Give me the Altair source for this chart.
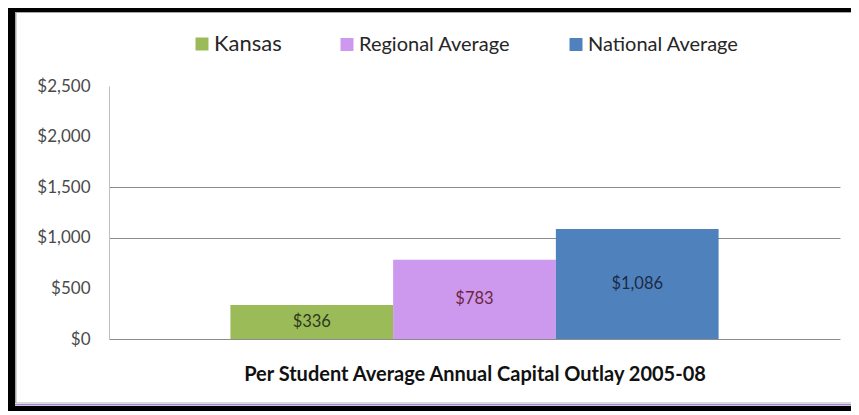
import altair as alt
import pandas as pd

# ---- data ----
categories = ["Kansas", "Regional Average", "National Average"]
values = [336, 783, 1086]
bar_labels = ["$336", "$783", "$1,086"]
y_ticks = [0, 500, 1000, 1500, 2000, 2500]
x_title = "Per Student Average Annual Capital Outlay 2005-08"

bar_colors = ["#9BBB59", "#CC99EE", "#4F81BD"]
text_colors = ["#2B3A1C", "#6E2640", "#1C2B45"]

df = pd.DataFrame({"category": categories, "value": values, "label": bar_labels})

FONT = "Lato"
W, H = 731, 253
PAD_L, PAD_T, PAD_R, PAD_B = 101, 78, 11, 72

x_enc = alt.X(
    "category:N",
    sort=categories,
    scale=alt.Scale(paddingInner=0, paddingOuter=0.746),
    axis=alt.Axis(
        title=x_title,
        labels=False,
        ticks=False,
        domainColor="#8C8C8C",
        titleFont=FONT,
        titleFontSize=20,
        titleFontWeight="bold",
        titleColor="#111111",
        titlePadding=25,
    ),
)

y_enc = alt.Y(
    "value:Q",
    scale=alt.Scale(domain=[0, 2500], nice=False),
    axis=alt.Axis(
        title=None,
        values=y_ticks,
        format="$,.0f",
        labelFont=FONT,
        labelFontSize=17,
        labelColor="#4A4A4A",
        labelPadding=19,
        ticks=False,
        domainColor="#BFBFBF",
        gridColor="#8C8C8C",
        gridOpacity=alt.condition("datum.value == 1000 || datum.value == 1500", alt.value(1), alt.value(0)),
    ),
)

bars = alt.Chart(df).mark_bar().encode(
    x=x_enc,
    y=y_enc,
    color=alt.Color(
        "category:N",
        sort=categories,
        scale=alt.Scale(domain=categories, range=bar_colors),
        legend=alt.Legend(
            title=None,
            orient="none",
            legendX=83,
            legendY=-52,
            direction="horizontal",
            symbolType="square",
            symbolSize=169,
            symbolStrokeWidth=0,
            symbolOpacity=1,
            labelFont=FONT,
            labelFontSize=alt.ExprRef(expr="datum.label == 'Kansas' ? 22 : 20"),
            labelColor="#262626",
            labelOffset=2,
            columnPadding=55,
            padding=0,
        ),
    ),
)

texts = alt.Chart(df).transform_calculate(mid="datum.value / 2").mark_text(
    font=FONT, fontSize=16.5, baseline="middle", align="center"
).encode(
    x=alt.X("category:N", sort=categories),
    y=alt.Y("mid:Q"),
    text="label:N",
    color=alt.Color("category:N", scale=alt.Scale(domain=categories, range=text_colors), legend=None),
)

one = alt.Data(values=[{"k": 1}])


def frame(x1, x2, y1, y2, col):
    return alt.Chart(one).mark_rect(color=col).encode(
        x=alt.value(x1), x2=alt.value(x2), y=alt.value(y1), y2=alt.value(y2)
    )


frames = [
    frame(-101, -94, -78, 325, "#000000"),
    frame(-94, -92.5, -74, 317, "#A8A8A8"),
    frame(-101, 760, -78, -74, "#000000"),
    frame(-94, 760, -74, -73, "#A8A8A8"),
    frame(-101, 760, 320, 325, "#000000"),
    frame(-94, 760, 318, 319.5, "#A585D5"),
    frame(-94, 760, 316.5, 317.5, "#B8B8B8"),
]

chart = alt.layer(bars, texts, *frames).resolve_scale(color="independent").properties(
    width=W,
    height=H,
    autosize=alt.AutoSizeParams(type="none"),
    padding={"left": PAD_L, "top": PAD_T, "right": PAD_R, "bottom": PAD_B},
    background="white",
).configure_view(stroke=None)

chart.save("out.html", embed_options={"renderer": "svg", "actions": False})
